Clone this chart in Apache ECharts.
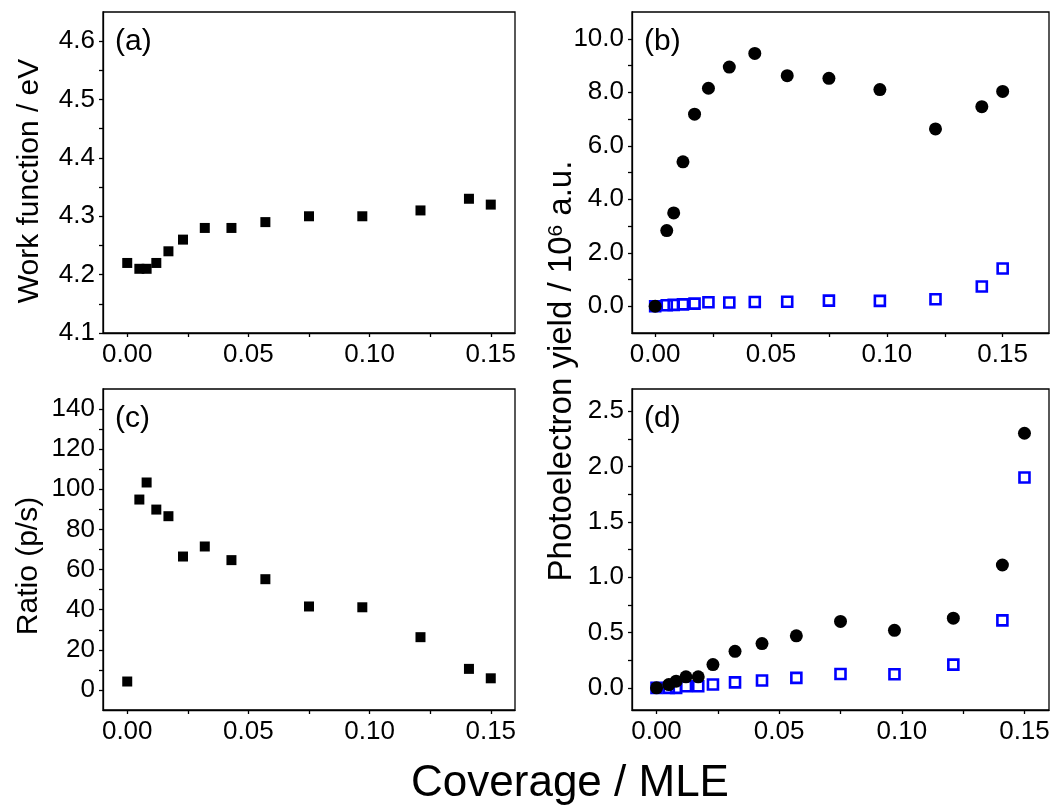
<!DOCTYPE html>
<html>
<head>
<meta charset="utf-8">
<script src="https://cdn.jsdelivr.net/npm/echarts@6/dist/echarts.min.js"></script>
<style>
  html, body { margin: 0; padding: 0; background: #fff; }
  #chart { width: 1058px; height: 809px; }
</style>
</head>
<body>
<div id="chart"></div>
<script>
// ---------------- data ----------------
const coverage = [0, 0.005, 0.008, 0.012, 0.017, 0.023, 0.032, 0.043, 0.057, 0.075, 0.097, 0.121, 0.141, 0.150];
const workFunction = [4.22, 4.21, 4.21, 4.22, 4.24, 4.26, 4.28, 4.28, 4.29, 4.30, 4.30, 4.31, 4.33, 4.32];
const yieldP_b = [0.0, 2.83, 3.49, 5.40, 7.18, 8.15, 8.94, 9.45, 8.62, 8.52, 8.10, 6.63, 7.46, 8.03];
const yieldS_b = [0.0, 0.04, 0.05, 0.07, 0.10, 0.15, 0.14, 0.16, 0.17, 0.21, 0.20, 0.26, 0.74, 1.41];
const ratioPS = [4.2, 94.9, 103.4, 89.9, 86.6, 66.5, 71.5, 64.7, 55.2, 41.6, 41.2, 26.3, 10.5, 5.8];
const yieldP_d = [0.0, 0.03, 0.06, 0.10, 0.10, 0.21, 0.33, 0.40, 0.47, 0.60, 0.52, 0.63, 1.11, 2.30];
const yieldS_d = [0.0, 0.0, 0.0, 0.015, 0.015, 0.03, 0.05, 0.066, 0.09, 0.125, 0.123, 0.21, 0.61, 1.90];

const xLabels = [0, 0.05, 0.10, 0.15];
const xTicks = [0, 0.025, 0.05, 0.075, 0.10, 0.125, 0.15];
const aLabels = [4.1, 4.2, 4.3, 4.4, 4.5, 4.6];
const aTicks = [4.1, 4.15, 4.2, 4.25, 4.3, 4.35, 4.4, 4.45, 4.5, 4.55, 4.6];
const bLabels = [0, 2, 4, 6, 8, 10];
const bTicks = [0, 1, 2, 3, 4, 5, 6, 7, 8, 9, 10];
const cLabels = [0, 20, 40, 60, 80, 100, 120, 140];
const cTicks = [0, 10, 20, 30, 40, 50, 60, 70, 80, 90, 100, 110, 120, 130, 140];
const dLabels = [0, 0.5, 1.0, 1.5, 2.0, 2.5];
const dTicks = [0, 0.25, 0.5, 0.75, 1.0, 1.25, 1.5, 1.75, 2.0, 2.25, 2.5];

const panelNames = ['(a)', '(b)', '(c)', '(d)'];
const titleA = 'Work function / eV';
const titleC = 'Ratio (p/s)';
const titleXAll = 'Coverage / MLE';

// ---------------- build ----------------
const FF = '"Liberation Sans", Arial, Helvetica, sans-serif';
const lineStyle = { color: '#000', width: 1.3 };
const TICK_FS = 26;

const grids = [
  { left: 103, top: 12, width: 412, height: 321 },
  { left: 632, top: 12, width: 417, height: 321 },
  { left: 103, top: 389, width: 412, height: 321 },
  { left: 632, top: 389, width: 417, height: 321 }
].map(g => Object.assign({ show: true, borderColor: '#000', borderWidth: 1.3, backgroundColor: 'transparent' }, g));

function xAxisFor(gi, max) {
  return {
    type: 'value', gridIndex: gi, min: -0.01, max: max, position: 'bottom',
    axisLine: { show: true, onZero: false, lineStyle },
    axisTick: { show: true, inside: false, length: 4, customValues: xTicks, lineStyle },
    axisLabel: { customValues: xLabels, formatter: v => Number(v).toFixed(2), fontSize: TICK_FS, color: '#000', margin: 9, fontFamily: FF },
    splitLine: { show: false }
  };
}
function yAxisFor(gi, min, max, labels, ticks, dec) {
  return {
    type: 'value', gridIndex: gi, min: min, max: max, position: 'left',
    axisLine: { show: true, onZero: false, lineStyle },
    axisTick: { show: true, inside: false, length: 4, customValues: ticks, lineStyle },
    axisLabel: { customValues: labels, formatter: v => Number(v).toFixed(dec), fontSize: TICK_FS, color: '#000', margin: 8, fontFamily: FF },
    splitLine: { show: false }
  };
}

const pairs = arr => coverage.map((x, i) => [x, arr[i]]);
const blackSq = { symbol: 'rect', symbolSize: 10, itemStyle: { color: '#000', opacity: 1 } };
const blackCirc = { symbol: 'circle', symbolSize: 13, itemStyle: { color: '#000', opacity: 1 } };
const blueSq = { symbol: 'rect', symbolSize: 10, itemStyle: { color: 'rgba(255,255,255,0)', borderColor: '#0000ff', borderWidth: 2.6, opacity: 1 } };

function sc(gi, arr, style, z) {
  return Object.assign({ type: 'scatter', xAxisIndex: gi, yAxisIndex: gi, data: pairs(arr), silent: true, z: z }, JSON.parse(JSON.stringify(style)));
}

const graphic = [];
grids.forEach((g, i) => {
  graphic.push({ type: 'text', x: g.left + 12, y: g.top + 30, silent: true,
    style: { text: panelNames[i], fontSize: 30, fontFamily: FF, fill: '#000', align: 'left', verticalAlign: 'middle' } });
});
graphic.push({ type: 'text', x: 30, y: 181, rotation: Math.PI / 2, silent: true,
  style: { text: titleA, fontSize: 30, fontFamily: FF, fill: '#000', align: 'center', verticalAlign: 'middle' } });
graphic.push({ type: 'text', x: 29, y: 566, rotation: Math.PI / 2, silent: true,
  style: { text: titleC, fontSize: 30, fontFamily: FF, fill: '#000', align: 'center', verticalAlign: 'middle' } });
graphic.push({ type: 'text', x: 562, y: 371, rotation: Math.PI / 2, silent: true,
  style: { text: 'Photoelectron yield / 10{sup|6} a.u.', fontSize: 33, fontFamily: FF, fill: '#000', align: 'center', verticalAlign: 'middle',
    rich: { sup: { fontSize: 21, fontFamily: FF, fill: '#000', verticalAlign: 'top', lineHeight: 33 } } } });
graphic.push({ type: 'text', x: 570, y: 784, silent: true,
  style: { text: titleXAll, fontSize: 44, fontFamily: FF, fill: '#000', align: 'center', verticalAlign: 'middle' } });

const option = {
  animation: false,
  backgroundColor: '#fff',
  grid: grids,
  xAxis: [xAxisFor(0, 0.16), xAxisFor(1, 0.17), xAxisFor(2, 0.16), xAxisFor(3, 0.16)],
  yAxis: [
    yAxisFor(0, 4.1, 4.65, aLabels, aTicks, 1),
    yAxisFor(1, -1, 11, bLabels, bTicks, 1),
    yAxisFor(2, -10, 150, cLabels, cTicks, 0),
    yAxisFor(3, -0.2, 2.7, dLabels, dTicks, 1)
  ],
  series: [
    sc(0, workFunction, blackSq, 3),
    sc(1, yieldS_b, blueSq, 2),
    sc(1, yieldP_b, blackCirc, 3),
    sc(2, ratioPS, blackSq, 3),
    sc(3, yieldS_d, blueSq, 2),
    sc(3, yieldP_d, blackCirc, 3)
  ],
  graphic: graphic
};

const chart = echarts.init(document.getElementById('chart'), null, { renderer: 'canvas' });
chart.setOption(option);
</script>
</body>
</html>
